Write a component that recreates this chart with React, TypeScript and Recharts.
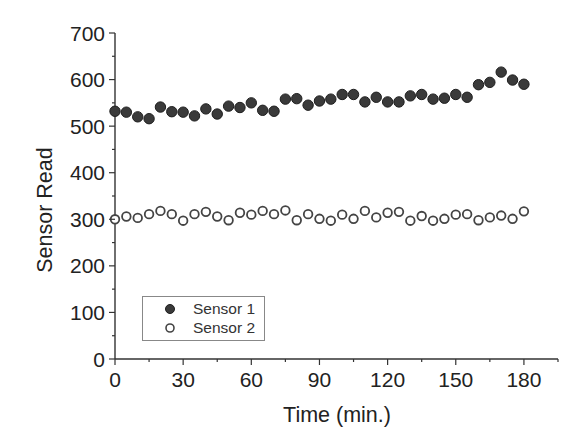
import {
  ScatterChart,
  Scatter,
  XAxis,
  YAxis,
  Legend,
} from "recharts"

const times = [
  0, 5, 10, 15, 20, 25, 30, 35, 40, 45, 50, 55, 60, 65, 70, 75, 80, 85, 90,
  95, 100, 105, 110, 115, 120, 125, 130, 135, 140, 145, 150, 155, 160, 165,
  170, 175, 180,
]

const sensor1 = [
  532, 530, 520, 516, 541, 531, 530, 522, 537, 526, 543, 540, 550, 534, 532,
  558, 559, 545, 554, 558, 568, 568, 552, 562, 552, 552, 565, 568, 558, 560,
  568, 562, 589, 594, 616, 599, 590,
]

const sensor2 = [
  300, 306, 303, 311, 318, 311, 297, 311, 316, 306, 298, 314, 310, 318, 311,
  319, 298, 311, 301, 297, 310, 301, 318, 304, 314, 316, 297, 307, 297, 301,
  310, 311, 298, 304, 308, 301, 317,
]

const xTicks = [0, 15, 30, 45, 60, 75, 90, 105, 120, 135, 150, 165, 180, 195]
const yTicks = [
  0, 50, 100, 150, 200, 250, 300, 350, 400, 450, 500, 550, 600, 650, 700,
]

const s1Data = times.map((t, i) => ({ t, v: sensor1[i] }))
const s2Data = times.map((t, i) => ({ t, v: sensor2[i] }))

const font = "Arial, 'Liberation Sans', sans-serif"
const ink = "#333"

function YTick({ x, y, payload }: any) {
  const major = payload.value % 100 === 0
  return (
    <g>
      <line x1={x - (major ? 6 : 3)} x2={x} y1={y} y2={y} stroke={ink} strokeWidth={1.2} />
      {major && (
        <text x={x - 10} y={y} dy="0.36em" textAnchor="end" fontSize={21} fontFamily={font} fill="#222">
          {payload.value}
        </text>
      )}
    </g>
  )
}

function XTick({ x, y, payload }: any) {
  const major = payload.value % 30 === 0 && payload.value <= 180
  return (
    <g>
      <line x1={x} x2={x} y1={y} y2={y + (major ? 6 : 3)} stroke={ink} strokeWidth={1.2} />
      {major && (
        <text x={x} y={y + 28} textAnchor="middle" fontSize={21} fontFamily={font} fill="#222">
          {payload.value}
        </text>
      )}
    </g>
  )
}

const filledDot = (p: any) => (
  <circle cx={p.cx} cy={p.cy} r={5.2} fill="#3a3a3a" stroke="#1e1e1e" strokeWidth={1} />
)
const hollowDot = (p: any) => (
  <circle cx={p.cx} cy={p.cy} r={4.3} fill="#fff" stroke="#444" strokeWidth={1.8} />
)

function LegendBox() {
  const row = { display: "flex", alignItems: "center", height: 19 }
  return (
    <div
      style={{
        border: "1px solid #888",
        width: 121,
        height: 41,
        boxSizing: "content-box",
        fontFamily: font,
        fontSize: 15.5,
        color: "#333",
        background: "#fff",
        paddingTop: 2,
      }}
    >
      <div style={row}>
        <svg width={50} height={19}>
          <circle cx={27} cy={10} r={4.5} fill="#3a3a3a" stroke="#1e1e1e" />
        </svg>
        <span>Sensor 1</span>
      </div>
      <div style={row}>
        <svg width={50} height={19}>
          <circle cx={27} cy={10} r={4} fill="#fff" stroke="#444" strokeWidth={1.6} />
        </svg>
        <span>Sensor 2</span>
      </div>
    </div>
  )
}

export default function App() {
  return (
    <div style={{ position: "absolute", left: 0, top: 0, background: "#fff" }}>
      <ScatterChart
        width={580}
        height={437}
        margin={{ top: 33, right: 22, bottom: 0, left: 0 }}
      >
        <XAxis
          type="number"
          dataKey="t"
          domain={[0, 195]}
          ticks={xTicks}
          interval={0}
          height={78}
          tickLine={false}
          tickSize={0}
          tickMargin={0}
          tick={<XTick />}
          axisLine={{ stroke: ink, strokeWidth: 1.4 }}
          label={() => (
            <text x={337} y={422} textAnchor="middle" fontSize={21.5} fontFamily={font} fill="#222">
              Time (min.)
            </text>
          )}
        />
        <YAxis
          type="number"
          dataKey="v"
          domain={[0, 700]}
          ticks={yTicks}
          interval={0}
          width={115}
          tickLine={false}
          tickSize={0}
          tickMargin={0}
          tick={<YTick />}
          axisLine={{ stroke: ink, strokeWidth: 1.4 }}
          label={() => (
            <text
              x={52}
              y={210}
              transform="rotate(-90 52 210)"
              textAnchor="middle"
              fontSize={21.5}
              fontFamily={font}
              fill="#222"
            >
              Sensor Read
            </text>
          )}
        />
        <Legend
          layout="horizontal"
          verticalAlign="middle"
          align="center"
          wrapperStyle={{ left: 142, top: 296, width: 123, height: 43 }}
          content={() => <LegendBox />}
        />
        <Scatter name="Sensor 1" data={s1Data} shape={filledDot} isAnimationActive={false} />
        <Scatter name="Sensor 2" data={s2Data} shape={hollowDot} isAnimationActive={false} />
      </ScatterChart>
    </div>
  )
}
